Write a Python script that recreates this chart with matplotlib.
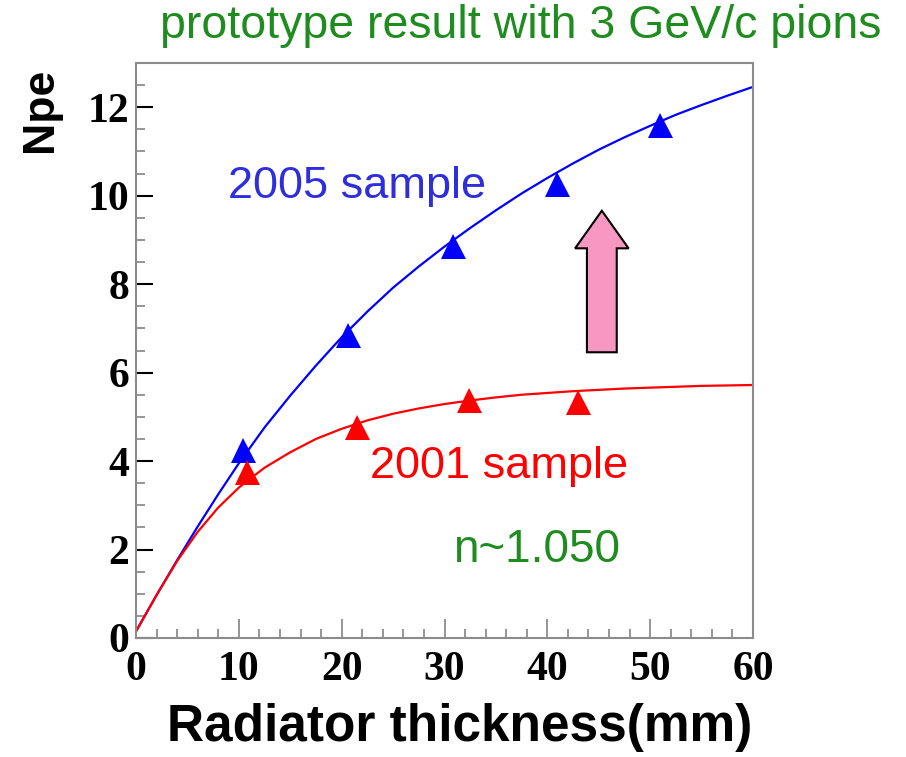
import matplotlib
matplotlib.use("Agg")
import matplotlib.pyplot as plt
from matplotlib.ticker import MultipleLocator
from matplotlib.patches import FancyArrow

# measured points (triangles)
x_2005 = [10.4, 20.6, 30.8, 40.9, 51.0]
y_2005 = [4.24, 6.86, 8.87, 10.26, 11.6]
x_2001 = [10.8, 21.5, 32.4, 43.0]
y_2001 = [3.75, 4.76, 5.37, 5.33]

# fitted curves
fit_x = [0, 2, 4, 6, 8, 10, 12.5, 15, 17.5, 20, 22.5, 25, 27.5, 30, 32.5,
         35, 37.5, 40, 42.5, 45, 47.5, 50, 52.5, 55, 57.5, 60]
fit_2005 = [0.15, 0.97, 1.76, 2.52, 3.25, 3.95, 4.76, 5.48, 6.16, 6.8, 7.38,
            7.92, 8.4, 8.85, 9.27, 9.67, 10.05, 10.4, 10.73, 11.04, 11.32,
            11.58, 11.83, 12.05, 12.26, 12.46]
fit_2001 = [0.15, 0.97, 1.74, 2.4, 2.95, 3.4, 3.85, 4.2, 4.5, 4.73, 4.92,
            5.07, 5.19, 5.29, 5.37, 5.44, 5.5, 5.54, 5.58, 5.61, 5.64, 5.66,
            5.68, 5.7, 5.71, 5.72]

BLUE = "#0000ff"
RED = "#ff0000"
GREEN = "#1f8c1f"
SANS = "Liberation Sans"
SERIF = "Liberation Serif"

fig = plt.figure(figsize=(9.06, 7.57), dpi=100)
ax = fig.add_axes([136 / 906, 1 - 638 / 757, (753 - 136) / 906, (638 - 63) / 757])

ax.plot(fit_x, fit_2005, color=BLUE, lw=1.6, zorder=2, solid_joinstyle="round")
ax.plot(fit_x, fit_2001, color=RED, lw=1.6, zorder=2, solid_joinstyle="round")
ax.plot(x_2005, y_2005, "^", color=BLUE, ms=18, mew=0, zorder=3)
ax.plot(x_2001, y_2001, "^", color=RED, ms=18, mew=0, zorder=3)

ax.set_xlim(0, 60)
ax.set_ylim(0, 13)

for s in ax.spines.values():
    s.set_color("#8c8c8c")
    s.set_linewidth(1.5)

ax.xaxis.set_major_locator(MultipleLocator(10))
ax.xaxis.set_minor_locator(MultipleLocator(2))
ax.yaxis.set_major_locator(MultipleLocator(2))
ax.yaxis.set_minor_locator(MultipleLocator(0.5))
ax.tick_params(which="both", direction="in", top=False, right=False)
ax.tick_params(axis="x", which="major", length=14, width=1.3, color="#8c8c8c", pad=9)
ax.tick_params(axis="x", which="minor", length=6.5, width=1.3, color="#8c8c8c")
ax.tick_params(axis="y", which="major", length=12, width=1.5, color="#000000", pad=5)
ax.tick_params(axis="y", which="minor", length=6.5, width=1.3, color="#8c8c8c")

# the darker ticks seen on the original axis
fig.canvas.draw()
xmaj = ax.xaxis.get_majorticklocs()
for t, v in zip(ax.xaxis.get_major_ticks(len(xmaj)), xmaj):
    if round(v) in (20, 50):
        t.tick1line.set_color("black")
xmin = ax.xaxis.get_minorticklocs()
for t, v in zip(ax.xaxis.get_minor_ticks(len(xmin)), xmin):
    if round(v) in (4, 34):
        t.tick1line.set_color("black")

ax.set_xticks([0, 10, 20, 30, 40, 50, 60])
ax.set_xticklabels(["0", "10", "20", "30", "40", "50", "60"],
                   fontfamily=SERIF, fontweight="bold", fontsize=30)
ax.set_yticks([0, 2, 4, 6, 8, 10, 12])
ax.set_yticklabels(["0", "2", "4", "6", "8", "10", "12"],
                   fontfamily=SERIF, fontweight="bold", fontsize=30)

# pink arrow
ax.add_patch(FancyArrow(45.3, 6.46, 0, 3.2, width=2.9, head_width=5.2,
                        head_length=0.85, length_includes_head=True,
                        facecolor="#f797c2", edgecolor="black", lw=1.5, zorder=4))

ax.text(8.95, 9.95, "2005 sample", color="#2e2edc", fontsize=32.5, family=SANS, va="baseline")
ax.text(22.8, 3.61, "2001 sample", color=RED, fontsize=32.5, family=SANS, va="baseline")
ax.text(30.8, 1.72, "n~1.050", color=GREEN, fontsize=33, family=SANS, va="baseline")

fig.text(160 / 906, 1 - 38 / 757, "prototype result with 3 GeV/c pions",
         color=GREEN, fontsize=33.5, family=SANS, ha="left", va="baseline")
fig.text(752 / 906, 1 - 741 / 757, "Radiator thickness(mm)", fontsize=37,
         family=SANS, fontweight="bold", ha="right", va="baseline")
fig.text(41 / 906, 1 - 68 / 757, "Npe", fontsize=32, family=SANS,
         fontweight="bold", rotation=90, ha="center", va="top")

fig.savefig("out.png", dpi=100)
